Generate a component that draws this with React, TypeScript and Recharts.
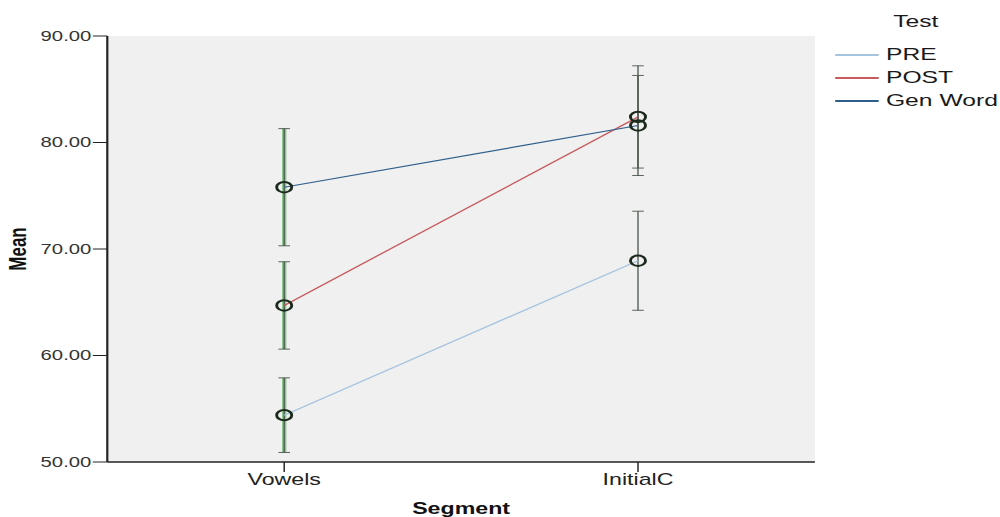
import React from 'react';
import { ComposedChart, Line, XAxis, YAxis, CartesianGrid, ErrorBar } from 'recharts';

const segments = ['Vowels', 'InitialC'];
const preMean = [54.4, 68.9];
const postMean = [64.7, 82.4];
const genMean = [75.8, 81.6];
const preErr = [3.5, 4.65];
const postErr = [4.1, 4.8];
const genErr = [5.5, 4.7];
const yTicks = [50, 60, 70, 80, 90];
const seriesNames = ['PRE', 'POST', 'Gen Word'];
const seriesColors = ['#a6c4de', '#c65a5e', '#2e5f8c'];
const legendTitle = 'Test';

const data = segments.map((seg, i) => ({
  seg,
  pre: preMean[i],
  post: postMean[i],
  gen: genMean[i],
  preErr: preErr[i],
  postErr: postErr[i],
  genErr: genErr[i],
}));

const FONT = '"Liberation Sans", Arial, sans-serif';
const SCALE = 1.45;
const W = 690;
const H = 517;

const greenPart = (key: string) => (d: any) => (d.seg === 'Vowels' ? d[key] : undefined);

const renderBars = (key: string) => [
  <ErrorBar key="g" dataKey={greenPart(key)} width={0} stroke="#8cc690" strokeWidth={3} isAnimationActive={false} />,
  <ErrorBar key="d" dataKey={key} width={4} stroke="#4a554b" strokeWidth={0.9} isAnimationActive={false} />,
];

const dot = { r: 5.2, stroke: '#1c2a1e', strokeWidth: 2, fill: 'none' };

const LegendBox = () => (
  <div style={{ position: 'absolute', left: 576, top: 10, width: 114, fontFamily: FONT, fontSize: 17, color: '#1a1a1a' }}>
    <div style={{ lineHeight: '23px', height: 23, paddingLeft: 40, marginBottom: 10 }}>{legendTitle}</div>
    {seriesNames.map((n, i) => (
      <div key={n} style={{ display: 'flex', alignItems: 'center', height: 23, lineHeight: '23px' }}>
        <div style={{ width: 30, height: 2, background: seriesColors[i], marginRight: 5 }} />
        <span>{n}</span>
      </div>
    ))}
  </div>
);

export default function App() {
  return (
    <div
      style={{
        position: 'absolute',
        left: 0,
        top: 0,
        width: W,
        height: H,
        background: '#fff',
        transform: `scaleX(${SCALE})`,
        transformOrigin: '0 0',
      }}
    >
      <ComposedChart width={W} height={H} data={data} margin={{ top: 36, right: 128, bottom: 0, left: 0 }}>
        <CartesianGrid horizontal={false} vertical={false} fill="#f0f0f0" />
        <XAxis
          dataKey="seg"
          scale="band"
          height={55}
          tickSize={10}
          tickMargin={2}
          tickLine={{ stroke: '#222' }}
          axisLine={{ stroke: '#222', strokeWidth: 1.5 }}
          tick={{ fontSize: 16, fill: '#222', fontFamily: FONT }}
          label={(p: any) => {
            const vb = p.viewBox;
            return (
              <text
                x={vb.x + vb.width / 2}
                y={vb.y + 46}
                textAnchor="middle"
                dominantBaseline="central"
                fontFamily={FONT}
                fontWeight="bold"
                fontSize={16}
                fill="#111"
              >
                Segment
              </text>
            );
          }}
        />
        <XAxis xAxisId="t" dataKey="seg" scale="band" orientation="top" height={0} tick={false} tickLine={false} axisLine={{ stroke: '#222', strokeWidth: 1.5 }} />
        <YAxis
          domain={[50, 90]}
          ticks={yTicks}
          width={74}
          tickSize={10}
          tickMargin={1}
          tickFormatter={(v: number) => v.toFixed(2)}
          tickLine={{ stroke: '#222' }}
          axisLine={{ stroke: '#222', strokeWidth: 1.5 }}
          tick={{ fontSize: 14, fill: '#333', fontFamily: FONT }}
          label={(p: any) => {
            const vb = p.viewBox;
            const cx = vb.x + 12;
            const cy = vb.y + vb.height / 2;
            return (
              <text
                x={cx}
                y={cy}
                transform={`rotate(-90, ${cx}, ${cy})`}
                textAnchor="middle"
                dominantBaseline="central"
                fontFamily={FONT}
                fontWeight="bold"
                fontSize={17}
                fill="#111"
              >
                Mean
              </text>
            );
          }}
        />
        <YAxis yAxisId="r" orientation="right" domain={[50, 90]} width={0} tick={false} tickLine={false} axisLine={{ stroke: '#222', strokeWidth: 2 }} />
        <Line name={seriesNames[0]} dataKey="pre" stroke={seriesColors[0]} strokeWidth={1.2} dot={dot} activeDot={false} isAnimationActive={false}>
          {renderBars('preErr')}
        </Line>
        <Line name={seriesNames[1]} dataKey="post" stroke={seriesColors[1]} strokeWidth={1.2} dot={dot} activeDot={false} isAnimationActive={false}>
          {renderBars('postErr')}
        </Line>
        <Line name={seriesNames[2]} dataKey="gen" stroke={seriesColors[2]} strokeWidth={1.2} dot={dot} activeDot={false} isAnimationActive={false}>
          {renderBars('genErr')}
        </Line>
      </ComposedChart>
      <LegendBox />
    </div>
  );
}
